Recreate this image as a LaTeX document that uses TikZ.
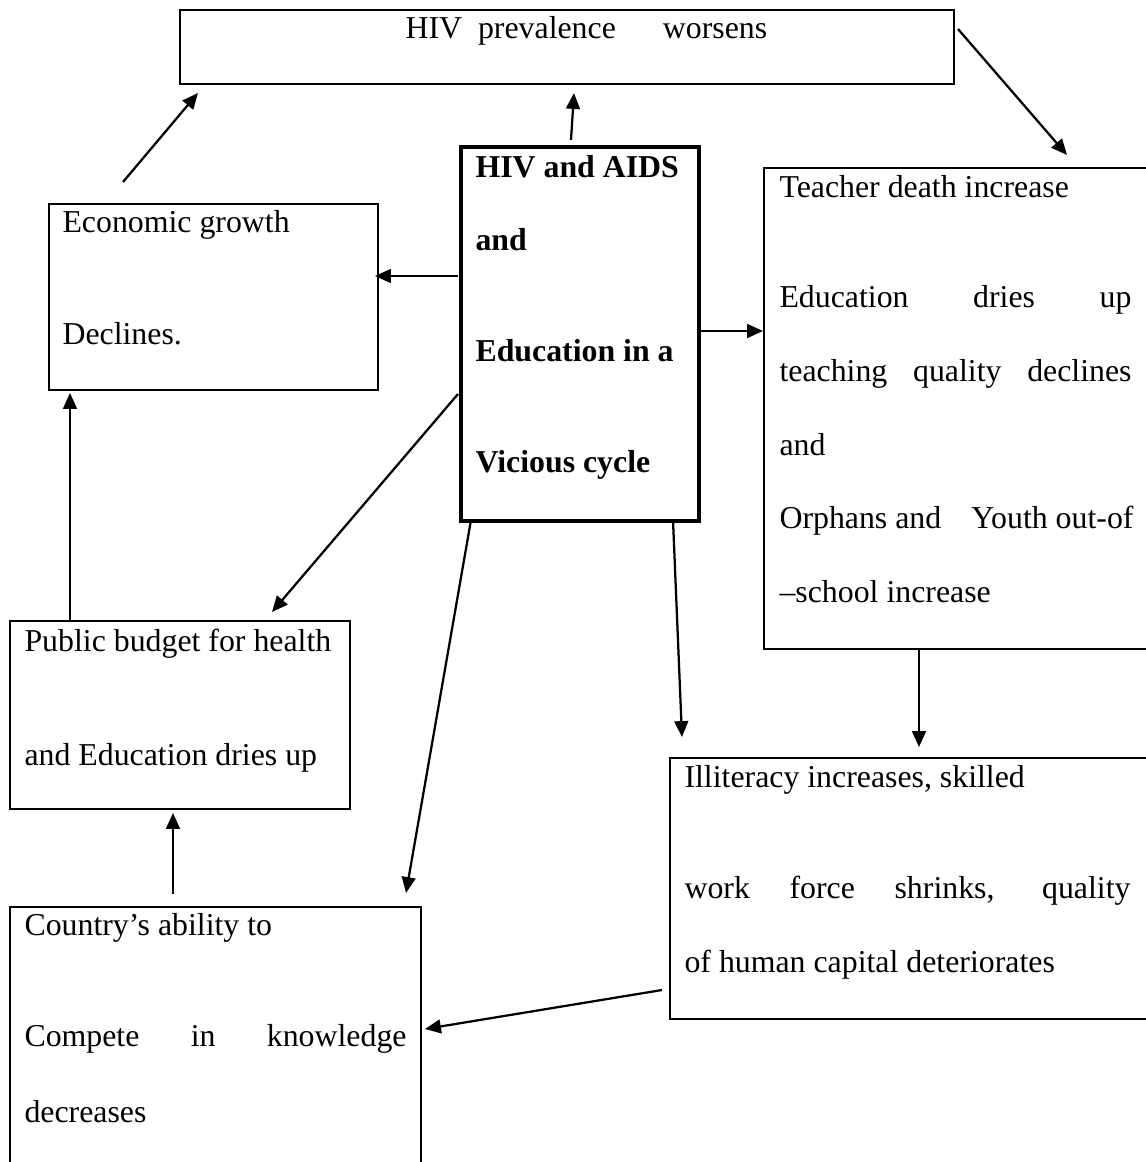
\documentclass[tikz,border=0pt]{standalone}
\usepackage{fontspec}
\setmainfont{Liberation Serif}
\usetikzlibrary{arrows.meta}
\newlength{\pxu}\setlength{\pxu}{0.377pt}
\begin{document}
\begin{tikzpicture}[x=1\pxu,y=-1\pxu,
  font=\fontsize{12}{14.4}\selectfont,
  box/.style={draw, line width=0.85pt, inner sep=0pt, anchor=north west},
  thickbox/.style={box, line width=1.6pt},
  txt/.style={inner sep=0pt, anchor=base west},
  bold/.style={font=\fontsize{12}{14.4}\selectfont\bfseries},
  arr/.style={line width=0.85pt, -{Triangle[length=6pt,width=5.2pt]}}]
\useasboundingbox (0,0) rectangle (1146,1162);
\clip (0,0) rectangle (1146,1162);
% boxes
\node[box, minimum width=774\pxu, minimum height=74\pxu] (top) at (179,9) {};
\node[thickbox, minimum width=238\pxu, minimum height=374\pxu] (center) at (459,145) {};
\node[box, minimum width=329\pxu, minimum height=186\pxu] (econ) at (48,203) {};
\node[box, minimum width=400\pxu, minimum height=481\pxu] (teacher) at (763,167) {};
\node[box, minimum width=340\pxu, minimum height=188\pxu] (public) at (9,620) {};
\node[box, minimum width=490\pxu, minimum height=261\pxu] (illit) at (669,757) {};
\node[box, minimum width=411\pxu, minimum height=270\pxu] (country) at (9,906) {};
% texts
\node[txt] (t1) at (405,38) {HIV\hspace{16\pxu}prevalence\hspace{47\pxu}worsens};
\node[txt] (e1) at (62,232) {Economic growth};
\node[txt] (e2) at (62,344) {Declines.};
\node[txt, bold] (c1) at (475,177) {HIV and AIDS};
\node[txt, bold] (c2) at (475,250) {and};
\node[txt, bold] (c3) at (475,361) {Education in a};
\node[txt, bold] (c4) at (475,472) {Vicious cycle};
\node[txt] (tc1) at (779,197) {Teacher death increase};
\node[txt] (tc2) at (779,307) {\makebox[352\pxu][s]{Education dries up}};
\node[txt] (tc3) at (779,381) {\makebox[352\pxu][s]{teaching quality declines}};
\node[txt] (tc4) at (779,455) {and};
\node[txt] (tc5) at (779,528) {\makebox[354\pxu][s]{Orphans and\hfill Youth out-of}};
\node[txt] (tc6) at (779,602) {–school increase};
\node[txt] (p1) at (24,651) {Public budget for health};
\node[txt] (p2) at (24,765) {and Education dries up};
\node[txt] (i1) at (684,787) {Illiteracy increases, skilled};
\node[txt] (i2) at (684,898) {\makebox[446\pxu][s]{work force shrinks, quality}};
\node[txt] (i3) at (684,972) {of human capital deteriorates};
\node[txt] (k1) at (24,935) {Country’s ability to};
\node[txt] (k2) at (24,1046) {\makebox[382\pxu][s]{Compete in knowledge}};
\node[txt] (k3) at (24,1122) {decreases};
% connector ends
\coordinate (a1s) at (571,140); \coordinate (a1e) at (574,93);
\coordinate (a2s) at (123,182); \coordinate (a2e) at (198,93);
\coordinate (a3s) at (958,29);  \coordinate (a3e) at (1067,155);
\coordinate (a4s) at (458,276); \coordinate (a4e) at (375,276);
\coordinate (a5s) at (697,331); \coordinate (a5e) at (763,331);
\coordinate (a6s) at (458,394); \coordinate (a6e) at (272,612);
\coordinate (a7s) at (471,520); \coordinate (a7e) at (406,893);
\coordinate (a8s) at (673,520); \coordinate (a8e) at (682,737);
\coordinate (a9s) at (919,648); \coordinate (a9e) at (919,747);
\coordinate (a10s) at (662,990); \coordinate (a10e) at (425,1029);
\coordinate (a11s) at (70,620); \coordinate (a11e) at (70,393);
\coordinate (a12s) at (173,894); \coordinate (a12e) at (173,813);
\foreach \i in {1,...,12} {\draw[arr] (a\i s) -- (a\i e);}
\end{tikzpicture}
\end{document}
